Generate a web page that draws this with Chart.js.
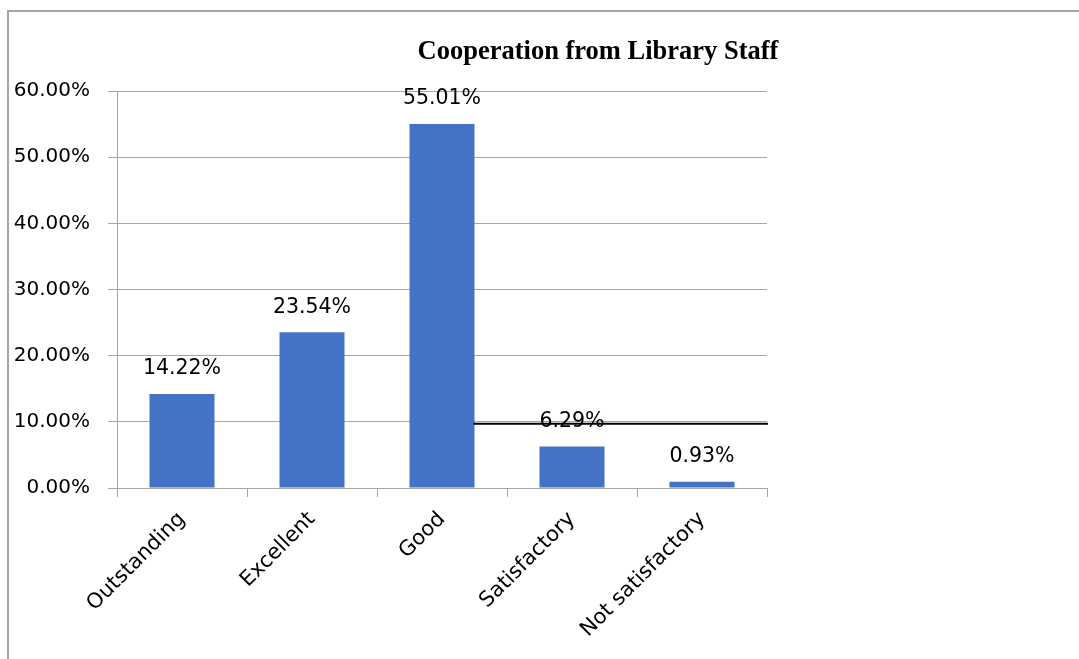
<!DOCTYPE html>
<html lang="en">
<head>
    <meta charset="UTF-8">
    <script src="https://cdn.jsdelivr.net/npm/chart.js"></script>
    <title>Cooperation from Library Staff</title>
    <style>
        html, body { margin: 0; padding: 0; background: #fff; overflow: hidden; }
        .quadro { position: relative; width: 1079px; height: 659px; }
        .moldura {
            position: absolute; left: 7px; top: 10px; width: 1072px; height: 649px;
            border-top: 2px solid #a6a6a6; border-left: 2px solid #a6a6a6;
            box-sizing: border-box;
        }
        canvas { position: absolute; left: 0; top: 0; }
    </style>
</head>
<body>
<div class="quadro">
    <div class="moldura"></div>
    <canvas id="myChart" width="1079" height="659"></canvas>
</div>

<script>
// dados do grafico
const categorias = ['Outstanding', 'Excellent', 'Good', 'Satisfactory', 'Not satisfactory'];
const percentuais = [14.22, 23.54, 55.01, 6.29, 0.93];
const ticksY = [0, 10, 20, 30, 40, 50, 60];
const titulo = 'Cooperation from Library Staff';
// linha preta solta que aparece no original (valor aproximado)
const linhaSolta = 9.7;

const fonteTexto = 'DejaVu Sans';

// rotulos em cima das barras + titulo + a linha preta
const extras = {
    id: 'extras',
    afterDatasetsDraw(chart) {
        const ctx = chart.ctx;
        const meta = chart.getDatasetMeta(0);
        ctx.save();
        ctx.fillStyle = '#000';
        ctx.font = '20.5px "' + fonteTexto + '"';
        ctx.textAlign = 'center';
        ctx.textBaseline = 'middle';
        meta.data.forEach(function (bar, i) {
            ctx.fillText(percentuais[i].toFixed(2) + '%', bar.x, bar.y - 25);
        });

        // linha preta: da borda direita da barra "Good" ate o fim da area
        const good = meta.data[2];
        const yLinha = chart.scales.y.getPixelForValue(linhaSolta);
        ctx.strokeStyle = '#000';
        ctx.lineWidth = 2;
        ctx.beginPath();
        ctx.moveTo(good.x + good.width / 2 - 1, yLinha);
        ctx.lineTo(chart.chartArea.right + 1, yLinha);
        ctx.stroke();

        ctx.font = 'bold 26.5px "Liberation Serif"';
        ctx.textAlign = 'center';
        ctx.textBaseline = 'alphabetic';
        ctx.fillText(titulo, 598, 59);
        ctx.restore();
    }
};

const config = {
    type: 'bar',
    data: {
        labels: categorias,
        datasets: [{
            data: percentuais,
            backgroundColor: '#4472C4',
            borderWidth: 0,
            barPercentage: 0.5,
            categoryPercentage: 1.0
        }]
    },
    options: {
        responsive: false,
        animation: false,
        layout: { padding: { top: 91, right: 312, left: 0, bottom: 0 } },
        plugins: {
            legend: { display: false },
            title: { display: false },
            tooltip: { enabled: false }
        },
        scales: {
            x: {
                grid: {
                    display: true,
                    drawOnChartArea: false,
                    drawTicks: true,
                    tickLength: 9,
                    color: '#a6a6a6',
                    offset: true
                },
                border: { display: true, color: '#a6a6a6' },
                ticks: {
                    color: '#000',
                    font: { family: fonteTexto, size: 21 },
                    maxRotation: 45,
                    minRotation: 45,
                    autoSkip: false,
                    padding: 10
                },
                afterFit(scale) { scale.height = 171; }
            },
            y: {
                min: 0,
                max: 60,
                afterBuildTicks(scale) {
                    scale.ticks = ticksY.map(v => ({ value: v }));
                },
                grid: {
                    color: '#a6a6a6',
                    tickLength: 9,
                    drawTicks: true
                },
                border: { display: true, color: '#a6a6a6' },
                ticks: {
                    color: '#000',
                    font: { family: fonteTexto, size: 20 },
                    padding: 18,
                    callback: v => v.toFixed(2) + '%'
                },
                afterFit(scale) { scale.width = 117; }
            }
        }
    },
    plugins: [extras]
};

let myChart = new Chart(document.getElementById('myChart'), config);
</script>
</body>
</html>
